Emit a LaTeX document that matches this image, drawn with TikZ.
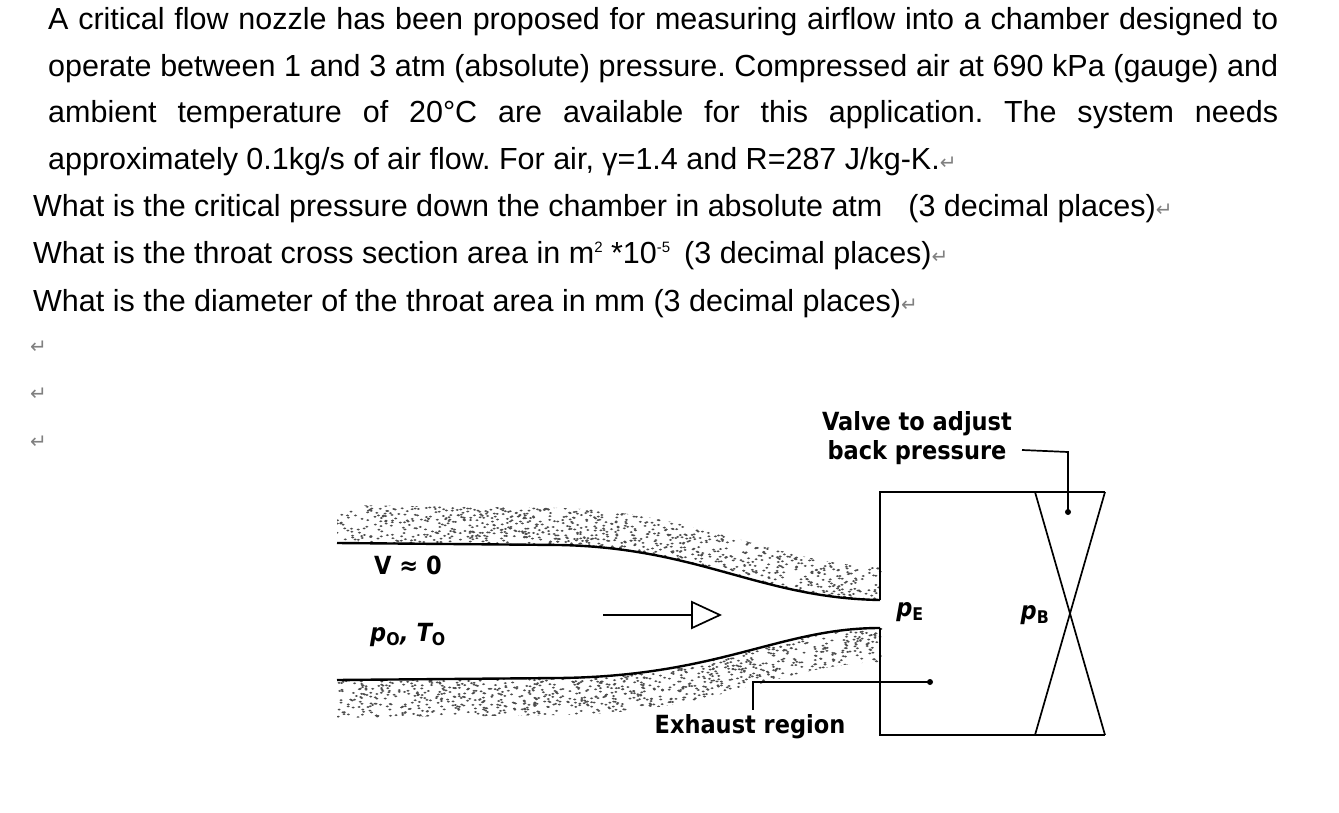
\documentclass[tikz,border=0pt]{standalone}
\usepackage{fontspec}
\setmainfont{Liberation Sans}
\newfontfamily\lab{DejaVu Sans Condensed}
\newfontfamily\djfont{DejaVu Sans}
\frenchspacing
\begin{document}
\begin{tikzpicture}[x=1pt,y=-1pt,
  txt/.style={anchor=base west,inner sep=0pt,font=\fontsize{30.5}{32}\selectfont},
  ret/.style={anchor=base west,inner sep=0pt,text=gray,font=\djfont\fontsize{20}{22}\selectfont},
  lbl/.style={inner sep=0pt,font=\lab\bfseries\fontsize{25}{27}\selectfont},
  wall/.style={line width=2.4pt},
  thin/.style={line width=1.7pt}]
\useasboundingbox (0,0) rectangle (1339,813);
% text
\node[txt] (l1) at (48,30) {\makebox[1230pt][s]{A critical flow nozzle has been proposed for measuring airflow into a chamber designed to}};
\node[txt] (l2) at (48,77) {\makebox[1230pt][s]{operate between 1 and 3 atm (absolute) pressure. Compressed air at 690 kPa (gauge) and}};
\node[txt] (l3) at (48,123) {\makebox[1230pt][s]{ambient temperature of 20°C are available for this application. The system needs}};
\node[txt] (l4) at (48,170) {approximately 0.1kg/s of air flow. For air, γ=1.4 and R=287 J/kg-K.\textcolor{gray}{\djfont\fontsize{20}{22}\selectfont↵}};
\node[txt] (q1) at (33,217) {What is the critical pressure down the chamber in absolute atm\hspace{26pt}(3 decimal places)\textcolor{gray}{\djfont\fontsize{20}{22}\selectfont↵}};
\node[txt] (q2) at (33,264) {What is the throat cross section area in m\raisebox{11pt}{\fontsize{15}{15}\selectfont 2} *10\raisebox{11pt}{\fontsize{15}{15}\selectfont -5}\hspace{14pt}(3 decimal places)\textcolor{gray}{\djfont\fontsize{20}{22}\selectfont↵}};
\node[txt] (q3) at (33,311) {What is the diameter of the throat area in mm (3 decimal places)\textcolor{gray}{\djfont\fontsize{20}{22}\selectfont↵}};
\node[ret] (r1) at (30,353) {↵};
\node[ret] (r2) at (30,400) {↵};
\node[ret] (r3) at (30,448) {↵};
% stipple
\pgfmathsetseed{7}
\begin{scope}
\clip (337,505) -- (560,508) .. controls (700,512) and (780,565) .. (882,567) -- (882,600) -- (880,600) .. controls (760,598) and (700,548) .. (560,545) -- (337,543) -- cycle
 (337,680) -- (560,678) .. controls (720,676) and (780,628) .. (882,628) -- (882,662) .. controls (780,664) and (720,713) .. (560,715) -- (337,718) -- cycle;
\foreach \i in {1,...,5200}{
  \pgfmathsetmacro{\xx}{337+rnd*545}
  \pgfmathsetmacro{\yy}{505+rnd*213}
  \fill[black!70] (\xx,\yy) ellipse (1.6 and 1.0);
}
\end{scope}
% walls
\draw[wall] (337,543) -- (560,545) .. controls (700,548) and (760,598) .. (880,600);
\draw[wall] (337,680) -- (560,678) .. controls (720,676) and (780,628) .. (880,628);
% box
\coordinate (bt) at (880,492); \coordinate (br) at (1105,492);
\coordinate (bb) at (880,735); \coordinate (bbr) at (1105,735);
\draw[thin] (880,600) -- (bt) -- (br);
\draw[thin] (880,628) -- (bb) -- (bbr);
% valve
\coordinate (v1) at (1035,492); \coordinate (v2) at (1035,735);
\draw[thin] (v1) -- (bbr);
\draw[thin] (br) -- (v2);
% arrow
\coordinate (a0) at (603,615); \coordinate (a1) at (692,615);
\draw[thin] (a0) -- (a1);
\draw[thin,fill=white] (692,602) -- (720,615) -- (692,628) -- cycle;
% labels
\node[lbl] (vlab) at (917,440) {\begin{tabular}{@{}c@{}}Valve to adjust\\[2pt]back pressure\end{tabular}};
\coordinate (vk) at (1068,452); \coordinate (vd) at (1068,512);
\draw[thin] (1022,450) -- (vk) -- (vd);
\fill (vd) circle (3);
\node[lbl] (ex) at (750,727) {Exhaust region};
\coordinate (ed) at (930,682); \coordinate (ek) at (753,682);
\draw[thin] (ed) -- (ek) -- (753,710);
\fill (ed) circle (3);
\node[lbl] (v0) at (408,565) {V ≈ 0};
\node[lbl] (p0) at (408,635) {\itshape p\textsubscript{\upshape O}, T\textsubscript{\upshape O}};
\node[lbl] (pe) at (910,612) {\itshape p\textsubscript{\upshape E}};
\node[lbl] (pb) at (1035,615) {\itshape p\textsubscript{\upshape B}};
\end{tikzpicture}
\end{document}
